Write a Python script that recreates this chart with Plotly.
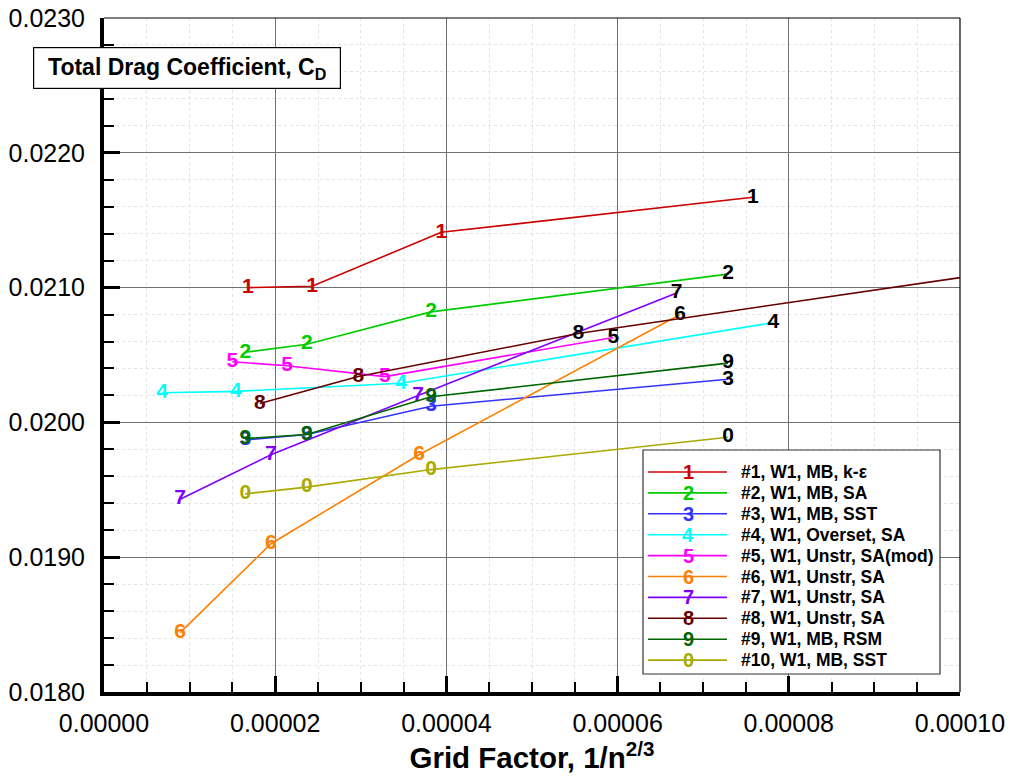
import plotly.graph_objects as go

# ---- data: grid factor (1/n^(2/3)) and total drag coefficient per submission ----
series_symbols = ["1", "2", "3", "4", "5", "6", "7", "8", "9", "0"]
series_names = [
    "#1, W1, MB, k-\u03b5",
    "#2, W1, MB, SA",
    "#3, W1, MB, SST",
    "#4, W1, Overset, SA",
    "#5, W1, Unstr, SA(mod)",
    "#6, W1, Unstr, SA",
    "#7, W1, Unstr, SA",
    "#8, W1, Unstr, SA",
    "#9, W1, MB, RSM",
    "#10, W1, MB, SST",
]
series_colors = ["#CC0000", "#00CC00", "#3333FF", "#00FFFF", "#FF00FF",
                 "#FF8000", "#8000FF", "#660000", "#006600", "#AAAA00"]

gf_1 = [1.68e-5, 2.43e-5, 3.94e-5, 7.58e-5]
cd_1 = [0.02100, 0.02101, 0.02141, 0.02167]

gf_2 = [1.65e-5, 2.37e-5, 3.82e-5, 7.29e-5]
cd_2 = [0.02052, 0.02058, 0.02082, 0.02110]

gf_3 = [1.65e-5, 2.37e-5, 3.82e-5, 7.29e-5]
cd_3 = [0.01987, 0.01991, 0.02012, 0.02032]

gf_4 = [6.8e-6, 1.54e-5, 3.47e-5, 7.82e-5]
cd_4 = [0.02022, 0.02023, 0.02029, 0.02074]

gf_5 = [1.50e-5, 2.14e-5, 3.28e-5, 5.95e-5]
cd_5 = [0.02045, 0.02042, 0.02034, 0.02063]

gf_6 = [8.9e-6, 1.95e-5, 3.68e-5, 6.73e-5]
cd_6 = [0.01844, 0.01910, 0.01976, 0.02080]

gf_7 = [8.9e-6, 1.95e-5, 3.67e-5, 6.69e-5]
cd_7 = [0.01943, 0.01976, 0.02020, 0.02096]

gf_8 = [1.82e-5, 2.97e-5, 5.54e-5, 1.20e-4]
cd_8 = [0.02014, 0.02034, 0.02066, 0.02126]

gf_9 = [1.65e-5, 2.37e-5, 3.82e-5, 7.29e-5]
cd_9 = [0.01988, 0.01991, 0.02019, 0.02044]

gf_10 = [1.65e-5, 2.37e-5, 3.82e-5, 7.29e-5]
cd_10 = [0.01947, 0.01952, 0.01965, 0.01989]

all_gf = [gf_1, gf_2, gf_3, gf_4, gf_5, gf_6, gf_7, gf_8, gf_9, gf_10]
all_cd = [cd_1, cd_2, cd_3, cd_4, cd_5, cd_6, cd_7, cd_8, cd_9, cd_10]

X_RANGE = [0.0, 0.0001]
Y_RANGE = [0.018, 0.023]

# ---- figure geometry (pixels) ----
W, H = 1010, 776
L, R, T, B = 104, 50, 18, 84
PLOT_W = W - L - R
PLOT_H = H - T - B


def px(xp):
    return (xp - L) / PLOT_W


def py(yp):
    return (H - B - yp) / PLOT_H


SANS = "Liberation Sans, Arial, Helvetica, sans-serif"

fig = go.Figure()

for sym, color, xs, ys in zip(series_symbols, series_colors, all_gf, all_cd):
    # the coarsest point still inside the plotted range is labelled in black;
    # points beyond the range are dropped from the labels (the line is clipped)
    inside = [i for i, x in enumerate(xs) if x <= X_RANGE[1]]
    last_in = inside[-1]
    label_colors = ["black" if i == last_in else color for i in range(len(xs))]
    labels = [sym if i in inside else "" for i in range(len(xs))]
    fig.add_trace(go.Scatter(
        x=xs, y=ys,
        mode="lines+text",
        text=labels,
        textposition="middle center",
        textfont=dict(family=SANS, size=21, color=label_colors, weight="bold"),
        line=dict(color=color, width=1.6),
        cliponaxis=True,
        showlegend=False,
        hoverinfo="x+y",
    ))

axis_common = dict(
    automargin=False,
    showgrid=True, gridcolor="#707070", gridwidth=1.3,
    zeroline=False,
    showline=True, linecolor="black", linewidth=4,
    ticks="inside", ticklen=16, tickwidth=3, tickcolor="black",
    tickfont=dict(family=SANS, size=25, color="black"),
)

fig.update_xaxes(
    range=X_RANGE, dtick=0.00002, tick0=0, tickformat=".5f",
    minor=dict(dtick=0.000005, ticks="inside", ticklen=10, tickwidth=1.5,
               tickcolor="black", showgrid=True, gridcolor="#e4e4e4",
               griddash="dot", gridwidth=1),
    ticklabelstandoff=6,
    title=dict(text="<b>Grid Factor, 1/n<sup>2/3</sup></b>",
               font=dict(family=SANS, size=29.5, color="black"), standoff=12),
    **axis_common,
)
fig.update_yaxes(
    range=Y_RANGE, dtick=0.001, tick0=0.018, tickformat=".4f",
    minor=dict(dtick=0.0002, ticks="inside", ticklen=10, tickwidth=1.5,
               tickcolor="black", showgrid=True, gridcolor="#e4e4e4",
               griddash="dot", gridwidth=1),
    ticklabelstandoff=10,
    **axis_common,
)

shapes = []
annotations = []

# thin frame on the top and right sides
shapes.append(dict(type="line", xref="paper", yref="paper", x0=0, x1=1, y0=1, y1=1,
                   line=dict(color="black", width=1.2)))
shapes.append(dict(type="line", xref="paper", yref="paper", x0=1, x1=1, y0=0, y1=1,
                   line=dict(color="black", width=1.2)))

# boxed quantity label
annotations.append(dict(
    xref="paper", yref="paper", x=px(186.5), y=py(68.5),
    xanchor="center", yanchor="middle", showarrow=False,
    text="<b>Total Drag Coefficient, C<sub>D</sub></b>",
    font=dict(family=SANS, size=23, color="black"),
    bgcolor="white", bordercolor="black", borderwidth=1.2, borderpad=3,
    width=300, height=34,
))

# legend panel
LEG_X0, LEG_X1, LEG_Y0, LEG_Y1 = 643, 940, 450, 674
shapes.append(dict(type="rect", xref="paper", yref="paper", layer="above",
                   x0=px(LEG_X0), x1=px(LEG_X1), y0=py(LEG_Y1), y1=py(LEG_Y0),
                   fillcolor="white", line=dict(color="#333333", width=1.2)))
row0, row_step = 472, 20.9
for k, (sym, color, name) in enumerate(zip(series_symbols, series_colors, series_names)):
    yrow = row0 + k * row_step
    shapes.append(dict(type="line", xref="paper", yref="paper", layer="above",
                       x0=px(648), x1=px(727), y0=py(yrow), y1=py(yrow),
                       line=dict(color=color, width=1.6)))
    annotations.append(dict(xref="paper", yref="paper", x=px(688), y=py(yrow),
                            xanchor="center", yanchor="middle", showarrow=False,
                            text="<b>%s</b>" % sym,
                            font=dict(family=SANS, size=20, color=color)))
    annotations.append(dict(xref="paper", yref="paper", x=px(739), y=py(yrow),
                            xanchor="left", yanchor="middle", showarrow=False,
                            text="<b>%s</b>" % name,
                            font=dict(family=SANS, size=17.5, color="black")))

fig.update_layout(
    width=W, height=H,
    margin=dict(l=L, r=R, t=T, b=B),
    plot_bgcolor="white", paper_bgcolor="white",
    shapes=shapes, annotations=annotations,
    showlegend=False,
)

fig.write_html("out.html")
